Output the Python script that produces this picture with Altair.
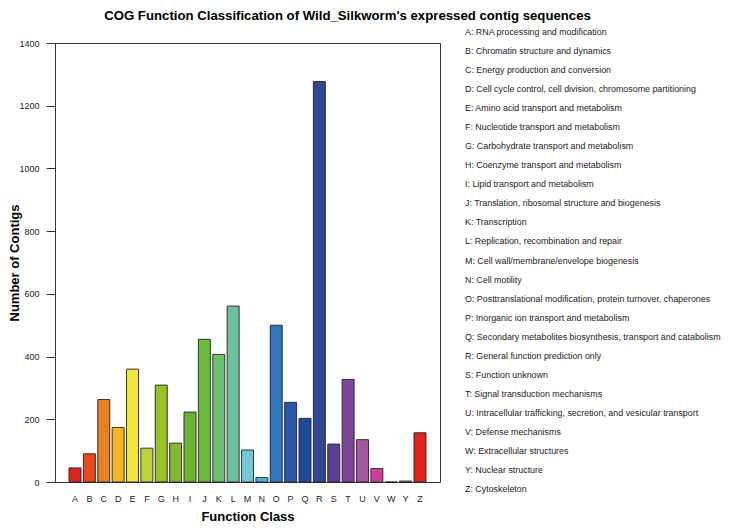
import altair as alt
import pandas as pd

cats = list("ABCDEFGHIJKLMNOPQRSTUVWYZ")
counts = [45, 90, 263, 174, 360, 108, 309, 124, 223, 455, 407, 561, 102, 14,
          500, 254, 203, 1277, 121, 327, 135, 43, 0, 3, 157]
colors = ["#e2231c", "#e8481c", "#ee7e22", "#f4b51f", "#efe53b", "#bdd53c",
          "#96c225", "#82ba33", "#6cb431", "#6abd3c", "#6dbd72", "#6cc0a0",
          "#72c8d8", "#45b4e1", "#3077c2", "#2958a8", "#1f4a9c", "#2e4793",
          "#5b3e92", "#7e4497", "#a757a0", "#cf3f97", "#c9c9c9", "#8fb98f",
          "#e2231c"]
descriptions = [
    "RNA processing and modification",
    "Chromatin structure and dynamics",
    "Energy production and conversion",
    "Cell cycle control, cell division, chromosome partitioning",
    "Amino acid transport and metabolism",
    "Nucleotide transport and metabolism",
    "Carbohydrate transport and metabolism",
    "Coenzyme transport and metabolism",
    "Lipid transport and metabolism",
    "Translation, ribosomal structure and biogenesis",
    "Transcription",
    "Replication, recombination and repair",
    "Cell wall/membrane/envelope biogenesis",
    "Cell motility",
    "Posttranslational modification, protein turnover, chaperones",
    "Inorganic ion transport and metabolism",
    "Secondary metabolites biosynthesis, transport and catabolism",
    "General function prediction only",
    "Function unknown",
    "Signal transduction mechanisms",
    "Intracellular trafficking, secretion, and vesicular transport",
    "Defense mechanisms",
    "Extracellular structures",
    "Nuclear structure",
    "Cytoskeleton",
]
y_ticks = [0, 200, 400, 600, 800, 1000, 1200, 1400]

df = pd.DataFrame({"cat": cats, "count": counts})
labels = [f"{c}: {d}" for c, d in zip(cats, descriptions)]
df_leg = pd.DataFrame({"label": labels})

FONT = "Liberation Sans"

bars = alt.Chart(df).mark_bar(stroke="#222222", strokeWidth=0.9).encode(
    x=alt.X("cat:N", sort=cats,
            scale=alt.Scale(paddingInner=0.165, paddingOuter=0.975),
            axis=alt.Axis(title="Function Class", labelAngle=0, ticks=False,
                          domain=False, labelPadding=12, labelFontSize=9,
                          labelColor="#222222", labelFont=FONT,
                          titleFont=FONT, titleFontSize=13,
                          titleFontWeight="bold", titlePadding=7,
                          titleColor="black")),
    y=alt.Y("count:Q", scale=alt.Scale(domain=[0, 1400], nice=False),
            axis=alt.Axis(values=y_ticks, format="d", title="Number of Contigs",
                          tickSize=9, tickColor="#333333", labelPadding=7,
                          domain=False, grid=False, labelFontSize=9,
                          labelFont=FONT, labelColor="#222222",
                          titleFont=FONT, titleFontSize=13,
                          titleFontWeight="bold", titlePadding=-3,
                          titleColor="black")),
    color=alt.Color("cat:N", scale=alt.Scale(domain=cats, range=colors),
                    legend=None),
)

legend_text = alt.Chart(df_leg).mark_text(
    align="left", baseline="middle", font=FONT, fontSize=8.9, color="#222222"
).encode(
    x=alt.value(410),
    y=alt.Y("label:N", sort=labels,
            scale=alt.Scale(type="point", range=[-11, 446], padding=0),
            axis=None),
    text="label:N",
)

chart = alt.layer(bars, legend_text).resolve_scale(y="independent").properties(
    width=385,
    height=439,
    title=alt.TitleParams(
        "COG Function Classification of Wild_Silkworm's expressed contig sequences",
        font=FONT, fontSize=13.2, fontWeight="bold", anchor="middle", dx=100,
        dy=14, color="black", offset=9, baseline="alphabetic",
    ),
    autosize=alt.AutoSizeParams(type="none"),
    padding={"left": 47, "top": 35, "right": 281, "bottom": 41},
).configure_view(stroke="#333333", strokeWidth=1)

chart.save("out.html", embed_options={"renderer": "svg", "actions": False})
